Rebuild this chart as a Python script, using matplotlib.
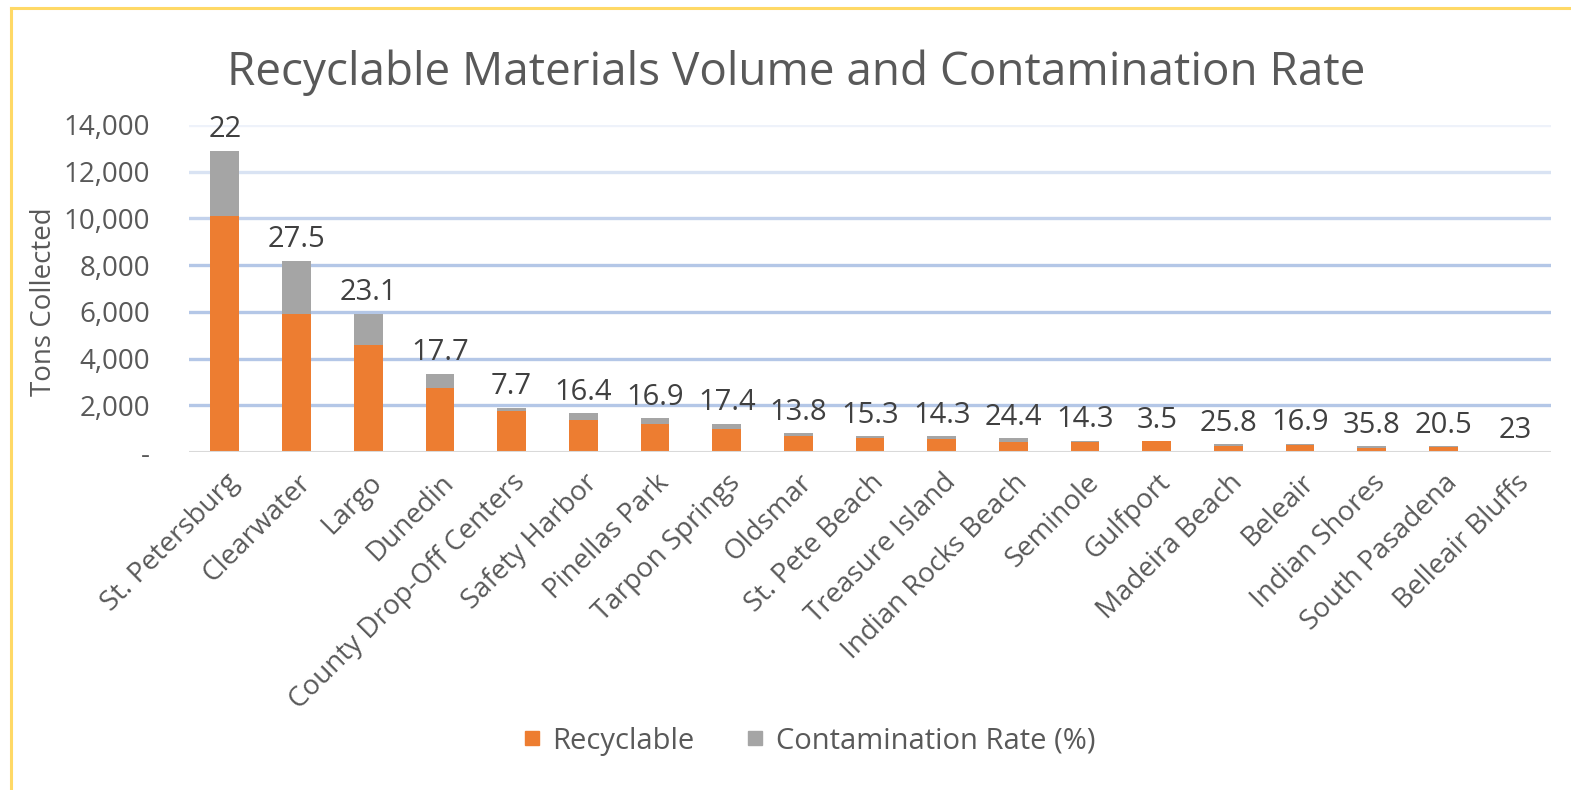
import matplotlib
matplotlib.use("Agg")
import matplotlib.pyplot as plt
from matplotlib.lines import Line2D
import numpy as np

plt.rcParams["font.family"] = ["Open Sans", "DejaVu Sans"]

# Data
cities = ["St. Petersburg", "Clearwater", "Largo", "Dunedin", "County Drop-Off Centers",
          "Safety Harbor", "Pinellas Park", "Tarpon Springs", "Oldsmar", "St. Pete Beach",
          "Treasure Island", "Indian Rocks Beach", "Seminole", "Gulfport", "Madeira Beach",
          "Beleair", "Indian Shores", "South Pasadena", "Belleair Bluffs"]
recyclable = [10100, 5900, 4600, 2740, 1740, 1390, 1190, 1000, 690, 585,
              575, 445, 420, 455, 255, 295, 165, 205, 15]
contaminated = [2800, 2290, 1330, 620, 160, 280, 250, 210, 110, 105,
                95, 145, 70, 15, 90, 60, 90, 50, 5]
contam_rate = ["22", "27.5", "23.1", "17.7", "7.7", "16.4", "16.9", "17.4", "13.8", "15.3",
               "14.3", "24.4", "14.3", "3.5", "25.8", "16.9", "35.8", "20.5", "23"]
yticks = [0, 2000, 4000, 6000, 8000, 10000, 12000, 14000]
ytick_labels = ["-", "2,000", "4,000", "6,000", "8,000", "10,000", "12,000", "14,000"]

txt = "#595959"
orange = "#ed7d31"
grey = "#a5a5a5"

fig = plt.figure(figsize=(15.71, 7.90), dpi=100)
ax = fig.add_axes([0.1203, 0.4278, 0.867, 0.414])

x = np.arange(len(cities))
ax.bar(x, recyclable, width=0.4, color=orange, zorder=3, label="Recyclable")
tops = np.array(recyclable) + np.array(contaminated)
ax.bar(x, contaminated, width=0.4, bottom=recyclable, color=grey, zorder=3,
       label="Contamination Rate (%)")

for xi, top, lab in zip(x, tops, contam_rate):
    ax.annotate(lab, (xi, top), xytext=(0, 15), textcoords="offset points",
                ha="center", va="center", fontsize=21, color="#404040")

# graded blue gridlines like the reference
grid_cols = {2000: "#b4c7e7", 4000: "#b4c7e7", 6000: "#b4c7e7", 8000: "#b4c7e7",
             10000: "#c3d2ec", 12000: "#d9e3f3", 14000: "#eef2fa"}
for yv, c in grid_cols.items():
    ax.axhline(yv, color=c, lw=2.4, zorder=1)
ax.axhline(0, color="#d9d9d9", lw=1.5, zorder=4)

ax.set_xlim(-0.5, len(cities) - 0.5)
ax.set_ylim(0, 14000)
ax.set_yticks(yticks)
ax.set_yticklabels(ytick_labels)
ax.set_xticks(x)
ax.set_xticklabels(cities, rotation=45, ha="right", rotation_mode="anchor")
ax.tick_params(axis="both", length=0, colors=txt)
ax.tick_params(axis="y", labelsize=20, pad=28)
ax.tick_params(axis="x", labelsize=20, pad=12)
for s in ax.spines.values():
    s.set_visible(False)
ax.set_ylabel("Tons Collected", fontsize=20, color=txt)
ax.yaxis.set_label_coords(-0.096, 0.46)

fig.suptitle("Recyclable Materials Volume and Contamination Rate",
             x=0.507, y=0.937, fontsize=33, color=txt)

handles = [Line2D([], [], marker="s", ls="", color=orange, markersize=10),
           Line2D([], [], marker="s", ls="", color=grey, markersize=10)]
fig.legend(handles, ["Recyclable", "Contamination Rate (%)"], loc="center",
           bbox_to_anchor=(0.515, 0.062), ncol=2, frameon=False, fontsize=21,
           labelcolor=txt, handlelength=0.6, handletextpad=0.4, columnspacing=1.8)

# yellow frame on the top and left edges
fig.add_artist(Line2D([11 / 1571, 1], [1 - 7.5 / 790, 1 - 7.5 / 790], color="#ffd966", lw=2.2))
fig.add_artist(Line2D([11 / 1571, 11 / 1571], [0, 1 - 7.5 / 790], color="#ffd966", lw=2.2))

fig.savefig("out.png", dpi=100)
